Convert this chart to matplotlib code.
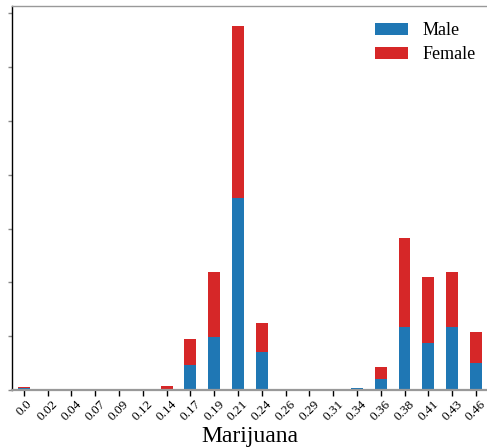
import matplotlib
matplotlib.use("Agg")
import matplotlib.pyplot as plt
import numpy as np

# Stacked share of respondents per marijuana score bin
bins = ["0.0", "0.02", "0.04", "0.07", "0.09", "0.12", "0.14", "0.17", "0.19", "0.21",
        "0.24", "0.26", "0.29", "0.31", "0.34", "0.36", "0.38", "0.41", "0.43", "0.46"]
male = [0.03, 0.005, 0.005, 0.005, 0.005, 0.005, 0.02, 0.47, 0.98, 3.57,
        0.70, 0.005, 0.005, 0.005, 0.03, 0.20, 1.18, 0.87, 1.18, 0.51]
female = [0.02, 0.01, 0.01, 0.01, 0.01, 0.01, 0.05, 0.47, 1.21, 3.19,
          0.55, 0.01, 0.01, 0.01, 0.005, 0.23, 1.65, 1.23, 1.02, 0.56]

BLUE = "#1f77b4"
RED = "#d62728"
SERIF = ["Liberation Serif", "DejaVu Serif"]

fig = plt.figure(figsize=(4.87, 4.47), dpi=100)
ax = fig.add_axes([0.0246, 0.1275, 0.977, 0.859])

x = np.arange(len(bins))
ax.bar(x, male, width=0.5, color=BLUE, label="Male")
ax.bar(x, female, width=0.5, bottom=male, color=RED, label="Female")

ax.set_xlim(-0.5, len(bins) - 0.5)
ax.set_ylim(0, 7.135)
ax.set_yticks(np.arange(0, 8))
ax.set_yticklabels([])
ax.set_xticks(x)
ax.set_xticklabels(bins, rotation=45, fontsize=9.5, family=SERIF)
ax.tick_params(axis="x", length=4, width=1, color="black", pad=2)
ax.tick_params(axis="y", length=3, width=1, color="#888888")

ax.spines["right"].set_visible(False)
ax.spines["top"].set_color("#999999")
ax.spines["top"].set_linewidth(1.0)
ax.spines["bottom"].set_color("#999999")
ax.spines["bottom"].set_linewidth(1.6)
ax.spines["left"].set_color("black")
ax.spines["left"].set_linewidth(1.0)

ax.set_xlabel("Marijuana", fontsize=17, family=SERIF, labelpad=2)
ax.legend(loc="upper right", bbox_to_anchor=(1.012, 1.005), frameon=False,
          prop={"family": SERIF, "size": 13},
          handlelength=1.8, handleheight=0.6, labelspacing=0.4,
          borderaxespad=0.6)

fig.savefig("out.png", dpi=100)
